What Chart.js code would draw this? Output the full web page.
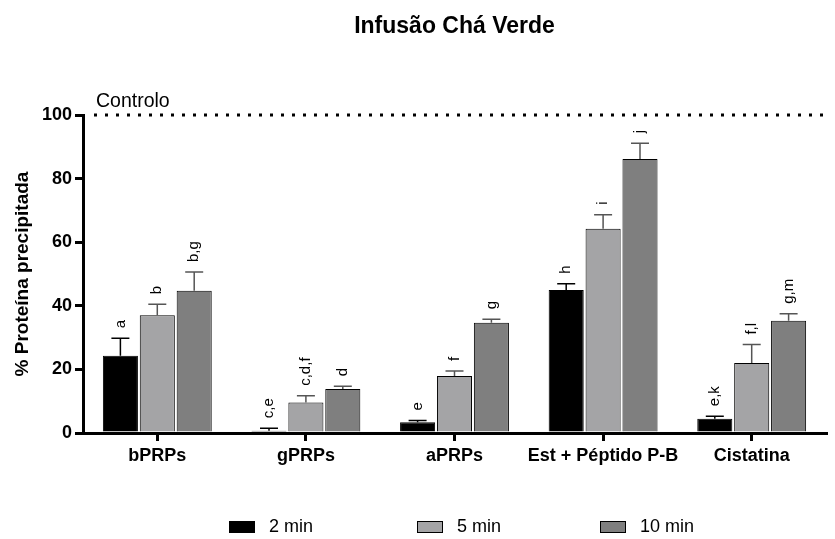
<!DOCTYPE html>
<html>
<head>
<meta charset="utf-8">
<script src="https://cdn.jsdelivr.net/npm/chart.js@4.4.1/dist/chart.umd.min.js"></script>
<style>
  body { margin: 0; background: #fff; }
  #wrap { width: 835px; height: 539px; }
</style>
</head>
<body>
<div id="wrap"><canvas id="chartCha"></canvas></div>
<script>
let categorias = ["bPRPs", "gPRPs", "aPRPs", "Est + Péptido P-B", "Cistatina"];
let seriesNomes = ["2 min", "5 min", "10 min"];

let valores2 = [24.3, 0.7, 3.4, 45.0, 4.5];
let valores5 = [37.0, 9.6, 17.9, 64.2, 22.0];
let valores10 = [44.7, 13.8, 34.7, 86.2, 35.3];

let erros2 = [5.5, 0.8, 0.5, 1.9, 0.8];
let erros5 = [3.5, 2.1, 1.6, 4.4, 5.8];
let erros10 = [5.9, 0.9, 1.1, 4.9, 2.2];

let letras2 = ["a", "c,e", "e", "h", "e,k"];
let letras5 = ["b", "c,d,f", "f", "i", "f,l"];
let letras10 = ["b,g", "d", "g", "j", "g,m"];

let yTicks = [0, 20, 40, 60, 80, 100];
let controlo = 100;
let titulo = "Infusão Chá Verde";

let barColors = ["#000000", "#a4a4a6", "#7f7f7f"];
let errColors = ["#000000", "#555555", "#555555"];

const FONTE = 'Arial, "Liberation Sans", sans-serif';
Chart.defaults.font.family = FONTE;
Chart.defaults.color = "#000";

// título centrado sobre a área do gráfico
const tituloPlugin = {
    id: "titulo",
    afterDraw(chart) {
        const ctx = chart.ctx;
        const area = chart.chartArea;
        ctx.save();
        ctx.font = "bold 23px " + FONTE;
        ctx.fillStyle = "#000";
        ctx.textAlign = "center";
        ctx.textBaseline = "middle";
        ctx.fillText(titulo, (area.left + area.right) / 2, 27);
        ctx.restore();
    }
};

// linha pontilhada do controlo + texto
const controloPlugin = {
    id: "controlo",
    afterDatasetsDraw(chart) {
        const ctx = chart.ctx;
        const area = chart.chartArea;
        const y = chart.scales.y.getPixelForValue(controlo);
        ctx.save();
        ctx.strokeStyle = "#000";
        ctx.lineWidth = 3;
        ctx.setLineDash([3, 8]);
        ctx.beginPath();
        ctx.moveTo(area.left + 11, y);
        ctx.lineTo(area.right, y);
        ctx.stroke();
        ctx.setLineDash([]);
        ctx.font = "19.5px " + FONTE;
        ctx.textBaseline = "bottom";
        ctx.textAlign = "left";
        ctx.fillStyle = "#000";
        ctx.fillText("Controlo", area.left + 13, y - 4);
        ctx.restore();
    }
};

// barras de erro (só para cima) e letras de significância
const errosPlugin = {
    id: "erros",
    afterDatasetsDraw(chart) {
        const ctx = chart.ctx;
        const yScale = chart.scales.y;
        chart.data.datasets.forEach((ds, i) => {
            const meta = chart.getDatasetMeta(i);
            meta.data.forEach((bar, j) => {
                const topo = yScale.getPixelForValue(ds.data[j] + ds.erros[j]);
                ctx.save();
                ctx.strokeStyle = errColors[i];
                ctx.lineWidth = 1.5;
                ctx.beginPath();
                ctx.moveTo(bar.x, bar.y);
                ctx.lineTo(bar.x, topo);
                ctx.moveTo(bar.x - 9, topo);
                ctx.lineTo(bar.x + 9, topo);
                ctx.stroke();

                ctx.translate(bar.x, topo - 10);
                ctx.rotate(-Math.PI / 2);
                ctx.font = "15px " + FONTE;
                ctx.fillStyle = "#000";
                ctx.textAlign = "left";
                ctx.textBaseline = "middle";
                ctx.fillText(ds.letras[j], 0, 0);
                ctx.restore();
            });
        });
    }
};

// legenda em baixo
const legendaPlugin = {
    id: "legenda",
    afterDraw(chart) {
        const ctx = chart.ctx;
        const posX = [229, 417, 600];
        const y = 527;
        ctx.save();
        ctx.font = "18px " + FONTE;
        ctx.textBaseline = "middle";
        chart.data.datasets.forEach((ds, i) => {
            ctx.fillStyle = ds.backgroundColor;
            ctx.fillRect(posX[i], y - 6, 26, 12);
            ctx.strokeStyle = "#000";
            ctx.lineWidth = 1;
            ctx.strokeRect(posX[i] + 0.5, y - 5.5, 25, 11);
            ctx.fillStyle = "#000";
            ctx.fillText(ds.label, posX[i] + 40, y);
        });
        ctx.restore();
    }
};

function serie(i, valores, erros, letras) {
    return {
        label: seriesNomes[i],
        data: valores,
        erros: erros,
        letras: letras,
        backgroundColor: barColors[i],
        borderColor: "#000",
        borderWidth: 1,
        categoryPercentage: 0.745,
        barPercentage: 0.95
    };
}

new Chart("chartCha", {
    type: "bar",
    data: {
        labels: categorias,
        datasets: [
            serie(0, valores2, erros2, letras2),
            serie(1, valores5, erros5, letras5),
            serie(2, valores10, erros10, letras10)
        ]
    },
    options: {
        responsive: true,
        maintainAspectRatio: false,
        animation: false,
        layout: { padding: { left: 0, right: 9, top: 115, bottom: 0 } },
        plugins: {
            legend: { display: false },
            tooltip: { enabled: false },
            title: { display: false }
        },
        scales: {
            x: {
                afterFit: (scale) => { scale.height = 106; },
                border: { display: true, color: "#000", width: 3 },
                grid: {
                    display: true,
                    offset: false,
                    drawOnChartArea: false,
                    drawTicks: true,
                    tickLength: 8,
                    lineWidth: 3,
                    color: "#000"
                },
                ticks: {
                    font: { size: 18, weight: "bold" },
                    color: "#000",
                    padding: 4,
                    maxRotation: 0,
                    autoSkip: false
                }
            },
            y: {
                min: 0,
                max: 100,
                afterFit: (scale) => { scale.width = 83; },
                afterBuildTicks: (scale) => { scale.ticks = yTicks.map(v => ({ value: v })); },
                border: { display: true, color: "#000", width: 3 },
                grid: {
                    display: true,
                    drawOnChartArea: false,
                    drawTicks: true,
                    tickLength: 8,
                    lineWidth: 3,
                    color: "#000"
                },
                ticks: {
                    font: { size: 18, weight: "bold" },
                    color: "#000",
                    padding: 3
                },
                title: {
                    display: true,
                    text: "% Proteína precipitada",
                    font: { size: 19, weight: "bold" },
                    color: "#000",
                    padding: { top: 11, bottom: 0 }
                }
            }
        }
    },
    plugins: [tituloPlugin, controloPlugin, errosPlugin, legendaPlugin]
});
</script>
</body>
</html>
